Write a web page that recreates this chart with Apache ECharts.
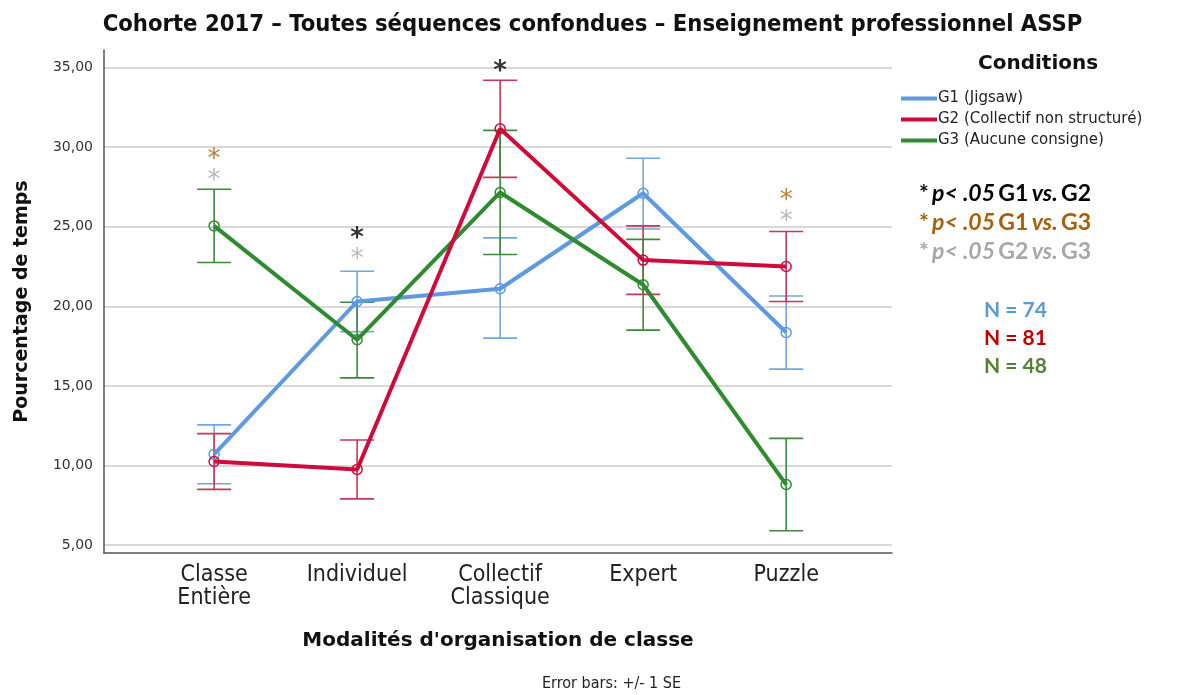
<!DOCTYPE html>
<html>
<head>
<meta charset="utf-8">
<script src="https://cdn.jsdelivr.net/npm/echarts@6.0.0/dist/echarts.min.js"></script>
<style>
html, body { margin: 0; padding: 0; background: #fff; }
#main { width: 1185px; height: 695px; }
</style>
</head>
<body>
<div id="main"></div>
<script>
// categories (x) and tick values (y)
var categories = ["Classe\nEntière", "Individuel", "Collectif\nClassique", "Expert", "Puzzle"];
var yTicks = [5, 10, 15, 20, 25, 30, 35];
var groupNames = ["G1 (Jigsaw)", "G2 (Collectif non structuré)", "G3 (Aucune consigne)"];

// means and +/- 1 SE bounds
var g1Mean = [10.7, 20.3, 21.1, 27.1, 18.35];
var g1Low = [8.85, 18.4, 18.0, 24.85, 16.05];
var g1High = [12.55, 22.2, 24.3, 29.3, 20.65];

var g2Mean = [10.25, 9.75, 31.15, 22.9, 22.5];
var g2Low = [8.5, 7.9, 28.1, 20.75, 20.3];
var g2High = [12.0, 11.6, 34.2, 25.05, 24.7];

var g3Mean = [25.05, 17.9, 27.15, 21.35, 8.8];
var g3Low = [22.75, 15.5, 23.25, 18.5, 5.9];
var g3High = [27.35, 20.25, 31.05, 24.2, 11.7];

// significance stars [category index, height]
var sigG1G2 = [[1, 24.7], [2, 35.2]];
var sigG1G3 = [[0, 29.65], [4, 27.1]];
var sigG2G3 = [[0, 28.35], [1, 23.4], [4, 25.75]];

var sigPairs = [["G1", "G2"], ["G1", "G3"], ["G2", "G3"]];
var sampleSizes = ["N = 74", "N = 81", "N = 48"];

var colors = ["#5d9ae0", "#cf0a3c", "#2f8b30"];
var barColors = ["#73a6e2", "#c93658", "#3d8a3d"];
var sigColors = ["#000000", "#a65f0a", "#a8a8a8"];
var nColors = ["#5b9bd5", "#c00000", "#538135"];
var condFont = "'DejaVu Sans Condensed', 'DejaVu Sans', sans-serif";

function toPairs(arr) {
  return arr.map(function(v, i) { return [i, v]; });
}

function lineSeries(k, mean, z) {
  return {
    name: groupNames[k],
    type: "line",
    data: toPairs(mean),
    z: z,
    symbol: "circle",
    symbolSize: 10,
    lineStyle: { color: colors[k], width: 4 },
    itemStyle: { color: "rgba(255,255,255,0)", borderColor: colors[k], borderWidth: 1.5 },
    emphasis: { disabled: true },
    animation: false
  };
}

function errorSeries(k, low, high) {
  return {
    name: "err" + k,
    type: "custom",
    z: 2,
    silent: true,
    data: low.map(function(l, i) { return [i, l, high[i]]; }),
    encode: { x: 0, y: [1, 2] },
    renderItem: function(params, api) {
      var x = api.value(0);
      var lo = api.coord([x, api.value(1)]);
      var hi = api.coord([x, api.value(2)]);
      var w = 17;
      var st = { stroke: barColors[k], lineWidth: 1.6 };
      return {
        type: "group",
        children: [
          { type: "line", shape: { x1: lo[0], y1: lo[1], x2: hi[0], y2: hi[1] }, style: st },
          { type: "line", shape: { x1: lo[0] - w, y1: lo[1], x2: lo[0] + w, y2: lo[1] }, style: st },
          { type: "line", shape: { x1: hi[0] - w, y1: hi[1], x2: hi[0] + w, y2: hi[1] }, style: st }
        ]
      };
    },
    animation: false
  };
}

function starSeries(name, data, color, weight) {
  return {
    name: name,
    type: "scatter",
    data: data,
    symbolSize: 1,
    itemStyle: { color: "rgba(0,0,0,0)" },
    silent: true,
    z: 6,
    label: {
      show: true,
      position: "inside",
      formatter: "*",
      fontSize: 26,
      fontWeight: weight,
      fontFamily: "DejaVu Sans",
      color: color,
      offset: [0, 8]
    },
    animation: false
  };
}

function sigGraphic(k) {
  var c = sigColors[k];
  var base = { fill: c, fontFamily: "Lato", fontWeight: "bold", fontSize: 23 };
  return {
    type: "text",
    left: 919,
    top: 182 + k * 29,
    style: {
      text: "{s|*} {i|p< .05} {b|" + sigPairs[k][0] + "} {i|vs.} {b|" + sigPairs[k][1] + "}",
      rich: {
        s: base,
        b: base,
        i: Object.assign({}, base, { fontStyle: "italic" })
      }
    }
  };
}

function nGraphic(k) {
  return {
    type: "text",
    left: 984,
    top: 300 + k * 28,
    style: { text: sampleSizes[k], fontFamily: "Lato", fontWeight: "bold", fontSize: 21, fill: nColors[k] }
  };
}

var myChart = echarts.init(document.getElementById("main"));

var option = {
  backgroundColor: "#fff",
  animation: false,
  title: {
    text: "Cohorte 2017 – Toutes séquences confondues – Enseignement professionnel ASSP",
    left: "center",
    top: 8,
    textStyle: { fontFamily: condFont, fontWeight: "bold", fontSize: 23.6, color: "#111" }
  },
  legend: {
    orient: "vertical",
    left: 896,
    top: 86,
    icon: "rect",
    itemWidth: 36,
    itemHeight: 4,
    itemGap: 6,
    selectedMode: false,
    data: groupNames.map(function(n, k) {
      return { name: n, itemStyle: { color: colors[k], borderWidth: 0 } };
    }),
    textStyle: { fontFamily: "DejaVu Sans", fontSize: 15, color: "#222", padding: [0, 0, 0, -4] }
  },
  grid: { left: 104, right: 293, top: 50, bottom: 142 },
  xAxis: {
    type: "value",
    min: -0.77,
    max: 4.74,
    name: "Modalités d'organisation de classe",
    nameLocation: "middle",
    nameGap: 78,
    nameTextStyle: { fontFamily: "DejaVu Sans", fontWeight: "bold", fontSize: 20, color: "#111" },
    axisLine: { onZero: false, lineStyle: { color: "#555", width: 1.5 } },
    axisTick: { show: false },
    splitLine: { show: false },
    axisLabel: {
      margin: 11,
      fontFamily: condFont,
      fontSize: 23,
      lineHeight: 23,
      color: "#222",
      formatter: function(v) {
        return Number.isInteger(v) && categories[v] ? categories[v] : "";
      }
    }
  },
  yAxis: {
    type: "value",
    min: 4.5,
    max: 36.1,
    name: "Pourcentage de temps",
    nameLocation: "middle",
    nameGap: 72,
    nameTextStyle: { fontFamily: "DejaVu Sans", fontWeight: "bold", fontSize: 19, color: "#111" },
    axisLine: { show: true, onZero: false, lineStyle: { color: "#555", width: 1.5 } },
    axisTick: { show: false },
    splitLine: { show: true, showMaxLine: false, showMinLine: false, lineStyle: { color: "#cccccc", width: 1.5 } },
    axisLabel: {
      margin: 11,
      fontFamily: "DejaVu Sans",
      fontSize: 14,
      color: "#333",
      formatter: function(v) {
        return yTicks.indexOf(v) >= 0 ? v.toFixed(2).replace(".", ",") : "";
      }
    }
  },
  graphic: [
    {
      type: "text", left: 978, top: 54,
      style: { text: "Conditions", fontFamily: "DejaVu Sans", fontWeight: "bold", fontSize: 20, fill: "#111" }
    },
    sigGraphic(0),
    sigGraphic(1),
    sigGraphic(2),
    nGraphic(0),
    nGraphic(1),
    nGraphic(2),
    {
      type: "text", left: 542, top: 676,
      style: { text: "Error bars: +/- 1 SE", fontFamily: condFont, fontSize: 16, fill: "#222" }
    }
  ],
  series: [
    errorSeries(0, g1Low, g1High),
    errorSeries(1, g2Low, g2High),
    errorSeries(2, g3Low, g3High),
    lineSeries(0, g1Mean, 3),
    lineSeries(1, g2Mean, 5),
    lineSeries(2, g3Mean, 4),
    starSeries("sig12", sigG1G2, sigColors[0], "bold"),
    starSeries("sig13", sigG1G3, sigColors[1], "normal"),
    starSeries("sig23", sigG2G3, sigColors[2], "normal")
  ]
};

myChart.setOption(option);
</script>
</body>
</html>
